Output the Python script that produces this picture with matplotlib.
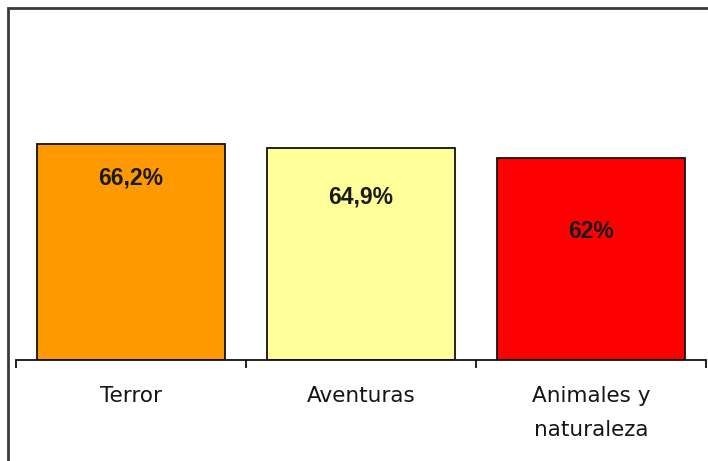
import matplotlib
matplotlib.use("Agg")
import matplotlib.pyplot as plt
from matplotlib.patches import Rectangle

categories = ["Terror", "Aventuras", "Animales y\nnaturaleza"]
values = [66.2, 64.9, 62.0]
value_labels = ["66,2%", "64,9%", "62%"]
label_y = [55.8, 50.0, 39.5]
colors = ["#FF9900", "#FFFF99", "#FF0000"]

W, H = 708, 461
fig = plt.figure(figsize=(W / 100, H / 100), dpi=100)
fig.patch.set_facecolor("white")

# outer chart frame (cropped on right and bottom)
fig.patches.append(Rectangle((8 / W, -0.1), 1.2, 1 - 8 / H + 0.1, transform=fig.transFigure,
                             fill=False, edgecolor="#3a3a3a", linewidth=2.0))

ax = fig.add_axes([16 / W, 1 - 360 / H, 690 / W, 326 / H])
x = list(range(len(categories)))
ax.bar(x, values, width=0.82, color=colors, edgecolor="#111111", linewidth=1.3, zorder=2)
for xi, yi, lab in zip(x, label_y, value_labels):
    ax.text(xi, yi, lab, ha="center", va="center", fontsize=16.5, fontweight="bold",
            family="Liberation Sans", color="#1a1a1a")

ax.set_xlim(-0.5, len(categories) - 0.5)
ax.set_ylim(0, 100)
for side in ["left", "right", "top"]:
    ax.spines[side].set_visible(False)
ax.spines["bottom"].set_linewidth(1.3)
ax.spines["bottom"].set_color("#111111")
ax.set_yticks([])
ax.set_xticks(x)
ax.set_xticklabels(categories, fontsize=15.5, family="DejaVu Sans", linespacing=1.85,
                   va="top", color="#151515")
ax.tick_params(axis="x", which="major", length=0, pad=19)
ax.set_xticks([i - 0.5 for i in range(len(categories) + 1)], minor=True)
ax.tick_params(axis="x", which="minor", length=6, width=1.3, color="#111111", direction="out")

fig.savefig("out.png", dpi=100)
